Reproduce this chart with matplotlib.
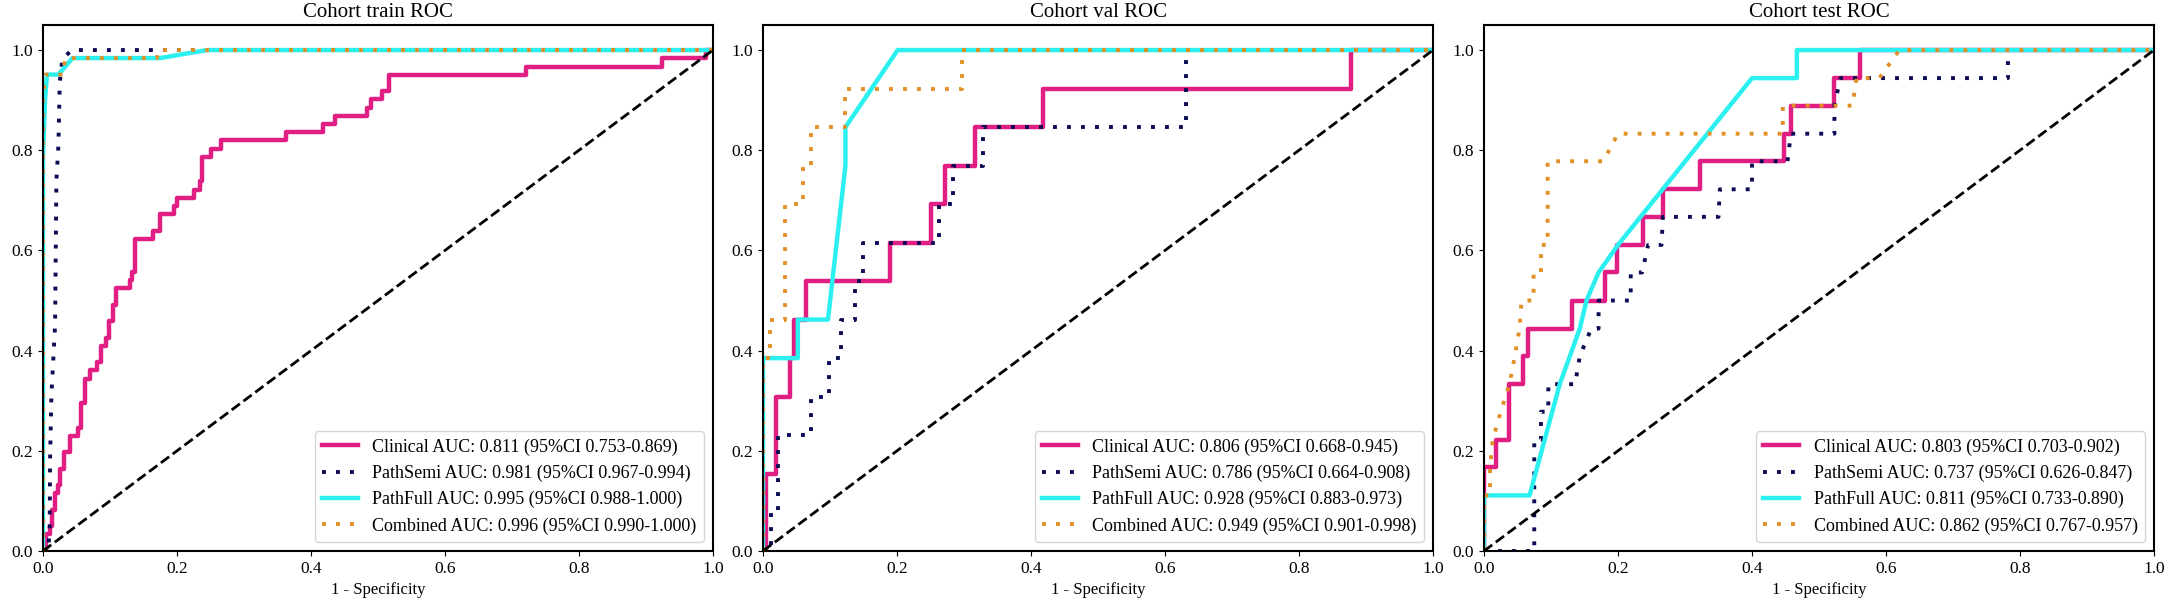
import numpy as np
import matplotlib
matplotlib.use('Agg')
import matplotlib.pyplot as plt

plt.rcParams['font.family'] = ['Liberation Serif', 'DejaVu Serif']

# ---- train cohort ----
# clinical curve as step points: vertical jump at x up to y, then flat
train_clin_x = [0, 0.005, 0.010, 0.014, 0.018, 0.022, 0.026, 0.031, 0.041, 0.052, 0.057, 0.062,
                0.070, 0.080, 0.087, 0.094, 0.099, 0.104, 0.109, 0.130, 0.133, 0.137, 0.164,
                0.174, 0.196, 0.200, 0.226, 0.234, 0.237, 0.251, 0.266, 0.363, 0.418, 0.436,
                0.483, 0.490, 0.506, 0.516, 0.721, 0.924, 0.990, 1.0]
train_clin_y = [0, 0.033, 0.049, 0.082, 0.115, 0.131, 0.164, 0.197, 0.230, 0.246, 0.295, 0.344,
                0.361, 0.377, 0.410, 0.426, 0.459, 0.492, 0.525, 0.541, 0.557, 0.623, 0.639,
                0.672, 0.689, 0.705, 0.721, 0.738, 0.787, 0.803, 0.820, 0.836, 0.852, 0.869,
                0.885, 0.902, 0.918, 0.951, 0.967, 0.984, 1.0, 1.0]
train_semi_x = [0, 0.008, 0.010, 0.0105, 0.0125, 0.018, 0.020, 0.023, 0.025, 0.029, 0.044, 1.0]
train_semi_y = [0, 0.0, 0.05, 0.18, 0.31, 0.45, 0.74, 0.81, 0.935, 0.984, 1.0, 1.0]
train_full_x = [0, 0, 0.003, 0.006, 0.023, 0.044, 0.175, 0.245, 1.0]
train_full_y = [0, 0.79, 0.90, 0.951, 0.951, 0.984, 0.984, 1.0, 1.0]
train_comb_x = [0, 0, 0.003, 0.030, 0.033, 0.170, 0.172, 1.0]
train_comb_y = [0, 0.90, 0.951, 0.951, 0.984, 0.984, 1.0, 1.0]

# ---- val cohort ----
val_clin_x = [0, 0.005, 0.005, 0.019, 0.019, 0.040, 0.040, 0.047, 0.047, 0.064, 0.064, 0.189, 0.189,
              0.251, 0.251, 0.271, 0.271, 0.316, 0.316, 0.418, 0.418, 0.878, 0.878, 1.0]
val_clin_y = [0, 0, 0.154, 0.154, 0.308, 0.308, 0.385, 0.385, 0.462, 0.462, 0.538, 0.538, 0.615,
              0.615, 0.692, 0.692, 0.769, 0.769, 0.846, 0.846, 0.923, 0.923, 1.0, 1.0]
val_semi_x = [0, 0.012, 0.012, 0.022, 0.022, 0.071, 0.071, 0.099, 0.099, 0.116, 0.116, 0.137, 0.137,
              0.149, 0.149, 0.263, 0.263, 0.283, 0.283, 0.328, 0.328, 0.632, 0.632, 1.0]
val_semi_y = [0, 0, 0.077, 0.077, 0.231, 0.231, 0.308, 0.308, 0.385, 0.385, 0.462, 0.462, 0.538,
              0.538, 0.615, 0.615, 0.692, 0.692, 0.769, 0.769, 0.846, 0.846, 1.0, 1.0]
val_full_x = [0, 0, 0.052, 0.052, 0.097, 0.123, 0.123, 0.201, 1.0]
val_full_y = [0, 0.385, 0.385, 0.462, 0.462, 0.769, 0.846, 1.0, 1.0]
val_comb_x = [0, 0, 0.010, 0.010, 0.033, 0.033, 0.059, 0.059, 0.071, 0.071, 0.122, 0.122, 0.297,
              0.297, 1.0]
val_comb_y = [0, 0.385, 0.385, 0.462, 0.462, 0.692, 0.692, 0.769, 0.769, 0.846, 0.846, 0.923,
              0.923, 1.0, 1.0]

# ---- test cohort ----
test_clin_x = [0, 0, 0.018, 0.018, 0.038, 0.038, 0.058, 0.058, 0.066, 0.066, 0.132, 0.132, 0.181,
               0.181, 0.199, 0.199, 0.238, 0.238, 0.267, 0.267, 0.322, 0.322, 0.448, 0.448, 0.458,
               0.458, 0.522, 0.522, 0.561, 0.561, 1.0]
test_clin_y = [0, 0.167, 0.167, 0.222, 0.222, 0.333, 0.333, 0.389, 0.389, 0.444, 0.444, 0.500,
               0.500, 0.556, 0.556, 0.611, 0.611, 0.667, 0.667, 0.722, 0.722, 0.778, 0.778, 0.833,
               0.833, 0.889, 0.889, 0.944, 0.944, 1.0, 1.0]
test_semi_x = [0, 0.075, 0.075, 0.085, 0.085, 0.096, 0.096, 0.136, 0.143, 0.160, 0.171, 0.171,
               0.219, 0.219, 0.236, 0.245, 0.265, 0.267, 0.350, 0.352, 0.400, 0.400, 0.453, 0.458,
               0.523, 0.523, 0.532, 0.782, 0.782, 1.0]
test_semi_y = [0, 0, 0.222, 0.222, 0.278, 0.278, 0.333, 0.333, 0.389, 0.444, 0.444, 0.500,
               0.500, 0.556, 0.556, 0.611, 0.611, 0.667, 0.667, 0.722, 0.722, 0.778, 0.778, 0.833,
               0.833, 0.889, 0.944, 0.944, 1.0, 1.0]
test_full_x = [0, 0, 0.068, 0.113, 0.143, 0.153, 0.171, 0.200, 0.400, 0.467, 0.467, 1.0]
test_full_y = [0, 0.111, 0.111, 0.333, 0.444, 0.500, 0.556, 0.611, 0.944, 0.944, 1.0, 1.0]
test_comb_x = [0, 0, 0.009, 0.009, 0.013, 0.025, 0.038, 0.046, 0.053, 0.056, 0.074, 0.074, 0.085,
               0.085, 0.095, 0.095, 0.178, 0.200, 0.446, 0.446, 0.550, 0.556, 0.590, 0.620, 1.0]
test_comb_y = [0, 0.111, 0.111, 0.167, 0.222, 0.278, 0.333, 0.389, 0.444, 0.500, 0.500, 0.556,
               0.556, 0.611, 0.611, 0.778, 0.778, 0.833, 0.833, 0.889, 0.889, 0.944, 0.944, 1.0,
               1.0]

titles = ['Cohort train ROC', 'Cohort val ROC', 'Cohort test ROC']
model_names = ['Clinical', 'PathSemi', 'PathFull', 'Combined']
auc_text = [
    ['0.811 (95%CI 0.753-0.869)', '0.981 (95%CI 0.967-0.994)',
     '0.995 (95%CI 0.988-1.000)', '0.996 (95%CI 0.990-1.000)'],
    ['0.806 (95%CI 0.668-0.945)', '0.786 (95%CI 0.664-0.908)',
     '0.928 (95%CI 0.883-0.973)', '0.949 (95%CI 0.901-0.998)'],
    ['0.803 (95%CI 0.703-0.902)', '0.737 (95%CI 0.626-0.847)',
     '0.811 (95%CI 0.733-0.890)', '0.862 (95%CI 0.767-0.957)'],
]
curves = [
    [(train_clin_x, train_clin_y), (train_semi_x, train_semi_y),
     (train_full_x, train_full_y), (train_comb_x, train_comb_y)],
    [(val_clin_x, val_clin_y), (val_semi_x, val_semi_y),
     (val_full_x, val_full_y), (val_comb_x, val_comb_y)],
    [(test_clin_x, test_clin_y), (test_semi_x, test_semi_y),
     (test_full_x, test_full_y), (test_comb_x, test_comb_y)],
]

colors = ['#e01e84', '#0b0b55', '#2cf0f0', '#e28f26']
styles = ['-', (0, (1, 2.6)), '-', (0, (1, 2.6))]
widths = [3.2, 2.8, 3.2, 2.8]

fig = plt.figure(figsize=(21.74, 6.06), dpi=100)
lefts = [43 / 2174, 763 / 2174, 1484 / 2174]
ax_w = 670 / 2174

for i in range(3):
    ax = fig.add_axes([lefts[i], 55 / 606, ax_w, 526 / 606])
    for j in range(4):
        xs, ys = curves[i][j]
        label = model_names[j] + ' AUC: ' + auc_text[i][j]
        if i == 0 and j == 0:
            ax.plot(xs, ys, drawstyle='steps-post', color=colors[j], linestyle=styles[j],
                    linewidth=widths[j], label=label)
        else:
            ax.plot(xs, ys, color=colors[j], linestyle=styles[j], linewidth=widths[j], label=label)
    ax.plot([0, 1], [0, 1], 'k--', linewidth=2)
    ax.set_xlim(0, 1)
    ax.set_ylim(0, 1.05)
    ax.set_title(titles[i], fontsize=15)
    ax.set_xlabel('1 - Specificity', fontsize=12)
    ax.tick_params(axis='both', which='major', labelsize=12.5)
    for side in ['top', 'bottom', 'left', 'right']:
        ax.spines[side].set_linewidth(1.5)
    ax.legend(loc='lower right', fontsize=13)

fig.savefig('out.png', dpi=100)
